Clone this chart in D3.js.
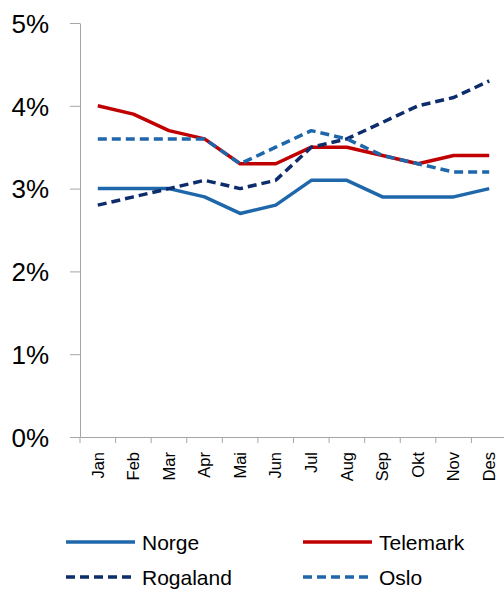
<!DOCTYPE html>
<html>
<head>
<meta charset="utf-8">
<script src="https://cdn.jsdelivr.net/npm/d3@7"></script>
<style>
  body { margin: 0; background: #fff; }
  svg { font-family: "Liberation Sans", Arial, sans-serif; }
</style>
</head>
<body>
<div id="chart"></div>
<script>
const months = ["Jan", "Feb", "Mar", "Apr", "Mai", "Jun", "Jul", "Aug", "Sep", "Okt", "Nov", "Des"];
const yTicks = [0, 1, 2, 3, 4, 5];

const norge = [3.0, 3.0, 3.0, 2.9, 2.7, 2.8, 3.1, 3.1, 2.9, 2.9, 2.9, 3.0];
const telemark = [4.0, 3.9, 3.7, 3.6, 3.3, 3.3, 3.5, 3.5, 3.4, 3.3, 3.4, 3.4];
const rogaland = [2.8, 2.9, 3.0, 3.1, 3.0, 3.1, 3.5, 3.6, 3.8, 4.0, 4.1, 4.3];
const oslo = [3.6, 3.6, 3.6, 3.6, 3.3, 3.5, 3.7, 3.6, 3.4, 3.3, 3.2, 3.2];

const series = [
  { name: "Norge", values: norge, color: "#1f67ab", dash: null },
  { name: "Telemark", values: telemark, color: "#c00000", dash: null },
  { name: "Rogaland", values: rogaland, color: "#0c2c6c", dash: "9,5" },
  { name: "Oslo", values: oslo, color: "#1f67ab", dash: "9,5" }
];

const width = 504, height = 591;
const mLeft = 80, mTop = 23, mBottom = 437, mRight = 507;

const svg = d3.select("#chart").append("svg")
  .attr("width", width)
  .attr("height", height);

const x = d3.scaleBand().domain(months).range([mLeft, mRight]);
const y = d3.scaleLinear().domain([0, 5]).range([mBottom, mTop]);

// y axis
const yAxis = svg.append("g")
  .attr("transform", `translate(${mLeft},0)`)
  .call(d3.axisLeft(y).tickValues(yTicks).tickSize(10).tickSizeOuter(0).tickPadding(21)
    .tickFormat(d => d + "%"));
yAxis.select(".domain").attr("stroke", "#a6a6a6");
yAxis.selectAll(".tick line").attr("stroke", "#a6a6a6");
yAxis.selectAll(".tick text").attr("font-size", 26).attr("fill", "#000").attr("dy", "0.36em");

// x axis
const xAxis = svg.append("g")
  .attr("transform", `translate(0,${mBottom})`)
  .call(d3.axisBottom(x).tickSize(0).tickSizeOuter(0));
xAxis.select(".domain").attr("stroke", "#a6a6a6");
xAxis.selectAll(".tick text")
  .attr("font-size", 16.5)
  .attr("fill", "#000")
  .attr("transform", "rotate(-90)")
  .attr("text-anchor", "end")
  .attr("x", -15)
  .attr("y", 0)
  .attr("dy", "0.35em");
// boundary ticks between months
svg.append("g")
  .selectAll("line")
  .data(months)
  .enter()
  .append("line")
  .attr("x1", d => x(d))
  .attr("x2", d => x(d))
  .attr("y1", mBottom)
  .attr("y2", mBottom + 6)
  .attr("stroke", "#a6a6a6");

const line = d3.line()
  .x((d, i) => x(months[i]) + x.bandwidth() / 2)
  .y(d => y(d));

svg.append("g")
  .selectAll("path")
  .data(series)
  .enter()
  .append("path")
  .attr("d", d => line(d.values))
  .attr("fill", "none")
  .attr("stroke", d => d.color)
  .attr("stroke-width", 3.5)
  .attr("stroke-linejoin", "round")
  .attr("stroke-dasharray", d => d.dash);

// legend
const legendPos = [[66, 542], [303, 542], [66, 577], [303, 577]];
const legend = svg.append("g")
  .selectAll("g")
  .data(series)
  .enter()
  .append("g")
  .attr("transform", (d, i) => `translate(${legendPos[i][0]},${legendPos[i][1]})`);
legend.append("line")
  .attr("x1", 0).attr("x2", 69)
  .attr("stroke", d => d.color)
  .attr("stroke-width", 3.5)
  .attr("stroke-dasharray", d => d.dash);
legend.append("text")
  .attr("x", 76)
  .attr("dy", "0.36em")
  .attr("font-size", 21)
  .text(d => d.name);
</script>
</body>
</html>
